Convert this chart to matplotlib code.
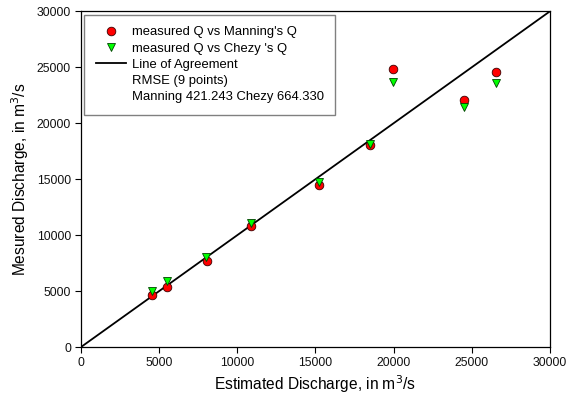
import matplotlib
matplotlib.use("Agg")
import matplotlib.pyplot as plt
from matplotlib.lines import Line2D

plt.rcParams['font.family'] = ['Liberation Sans', 'DejaVu Sans']

# estimated discharge (x) and measured discharge (y), m3/s
manning_est = [4560, 5500, 8070, 10900, 15210, 18490, 19940, 24480, 26570]
manning_meas = [4640, 5380, 7700, 10860, 14520, 18030, 24820, 22050, 24580]
chezy_est = [4540, 5500, 8010, 10900, 15210, 18490, 19940, 24480, 26570]
chezy_meas = [5030, 5920, 8040, 11120, 14730, 18150, 23650, 21450, 23620]
agree = [0, 30000]
ticks = [0, 5000, 10000, 15000, 20000, 25000, 30000]

fig = plt.figure(figsize=(5.75, 4.0), dpi=100)
ax = fig.add_axes([0.1403, 0.1318, 0.8162, 0.84])

ax.plot(agree, agree, color='black', lw=1.3, zorder=2)
ax.plot(manning_est, manning_meas, 'o', ms=6.2, mfc='#ff0000', mec='#3a0000',
        mew=0.6, zorder=3)
ax.plot(chezy_est, chezy_meas, 'v', ms=6.2, mfc='#00ff00', mec='#004000',
        mew=0.6, zorder=4)

ax.set_xlim(0, 30000)
ax.set_ylim(0, 30000)
ax.set_xticks(ticks)
ax.set_yticks(ticks)
ax.tick_params(direction='out', length=4, width=0.8, labelsize=8.8, pad=3,
               labelcolor='#111111')
for s in ax.spines.values():
    s.set_linewidth(0.9)

ax.set_xlabel('Estimated Discharge, in m$^3$/s', fontsize=11.2, labelpad=3)
ax.set_ylabel('Mesured Discharge, in m$^3$/s', fontsize=11.2, labelpad=4)

blank = Line2D([], [], linestyle='none', marker='none')
handles = [
    Line2D([], [], linestyle='none', marker='o', ms=6.2, mfc='#ff0000',
           mec='#3a0000', mew=0.6),
    Line2D([], [], linestyle='none', marker='v', ms=6.2, mfc='#00ff00',
           mec='#004000', mew=0.6),
    Line2D([], [], color='black', lw=1.3),
    blank, blank,
]
labels = ["measured Q vs Manning's Q", "measured Q vs Chezy 's Q",
          'Line of Agreement', 'RMSE (9 points)',
          'Manning 421.243 Chezy 664.330']
leg = ax.legend(handles, labels, loc='upper left',
                bbox_to_anchor=(0.008, 0.989), fontsize=9.4, frameon=True,
                fancybox=False, edgecolor='#808080', framealpha=1,
                handlelength=2.3, handletextpad=0.5, labelspacing=0.32,
                borderpad=0.85, borderaxespad=0)
leg.get_frame().set_linewidth(1.0)

fig.savefig('out.png', dpi=100)
